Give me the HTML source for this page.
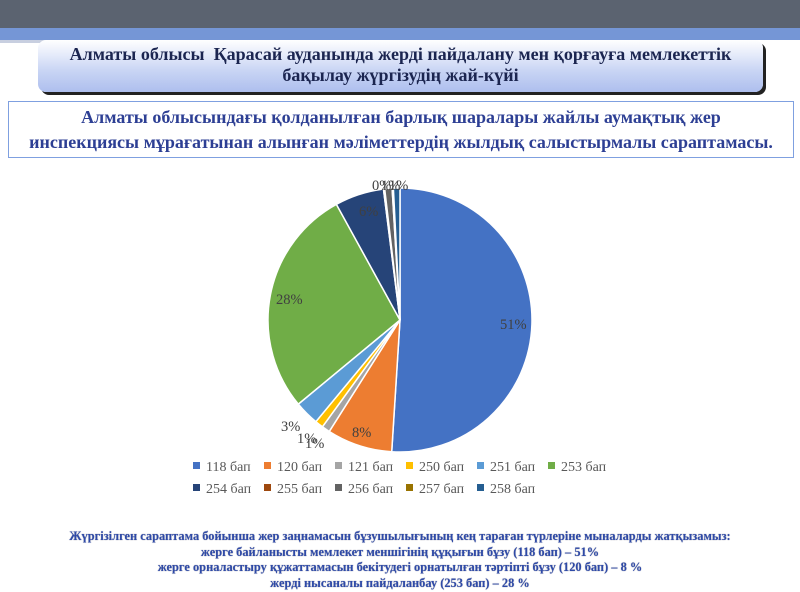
<!DOCTYPE html>
<html><head><meta charset="utf-8"><style>
body{margin:0;width:800px;height:592px;overflow:hidden;background:#fff;position:relative;font-family:"Liberation Serif",serif}
.band1{position:absolute;left:0;top:0;width:800px;height:28px;background:#5b6370}
.band2{position:absolute;left:0;top:28px;width:800px;height:12px;background:#7596d6}
.band3{position:absolute;left:0;top:40px;width:470px;height:3px;background:#c8cfe0}
.t1{position:absolute;left:38px;top:40px;width:725px;height:52px;border-radius:8px;background:linear-gradient(#fff,#c8d4f4 60%,#aebfee);box-shadow:3px 3px 0 #222;text-align:center;font-weight:bold;font-size:18px;line-height:21px;color:#1b2550;padding-top:4px;box-sizing:border-box;white-space:nowrap}
.t2{position:absolute;left:8px;top:101px;width:786px;height:57px;border:1px solid #7fa0e0;text-align:center;font-weight:bold;font-size:18px;line-height:25px;color:#2d3f94;padding-top:3px;box-sizing:border-box;white-space:nowrap}
.bot{position:absolute;left:0;top:529px;width:800px;text-align:center;font-weight:bold;font-size:12.4px;line-height:15.5px;color:#2e4aa8;text-shadow:0 0 1px #889;white-space:nowrap}
</style></head><body>
<div class="band1"></div><div class="band2"></div><div class="band3"></div>
<div class="t1">Алматы облысы&nbsp; Қарасай ауданында жерді пайдалану мен қорғауға мемлекеттік<br>бақылау жүргізудің жай-күйі</div>
<div class="t2">Алматы облысындағы қолданылған барлық шаралары жайлы аумақтық жер<br>инспекциясы мұрағатынан алынған мәліметтердің жылдық салыстырмалы сараптамасы.</div>
<svg id="pie" width="800" height="592" style="position:absolute;left:0;top:0" font-family="Liberation Serif, serif"></svg>
<div class="bot">Жүргізілген сараптама бойынша жер заңнамасын бұзушылығының кең тараған түрлеріне мыналарды жатқызамыз:<br>жерге байланысты мемлекет меншігінің құқығын бұзу (118 бап) – 51%<br>жерге орналастыру құжаттамасын бекітудегі орнатылған тәртіпті бұзу (120 бап) – 8 %<br>жерді нысаналы пайдаланбау (253 бап) – 28 %</div>
<script>
var s=document.getElementById('pie'),cx=400,cy=320,r=132;
var d=[[51,'#4472c4'],[8,'#ed7d31'],[1,'#a5a5a5'],[1,'#ffc000'],[3,'#5b9bd5'],[28,'#70ad47'],[6,'#264478'],[0.15,'#9e480e'],[0.9,'#636363'],[0.15,'#997300'],[0.8,'#255e91']];
var tot=0;d.forEach(function(x){tot+=x[0]});var a=0,h='';
d.forEach(function(x){var a2=a+x[0]/tot*2*Math.PI;
var x1=cx+r*Math.sin(a),y1=cy-r*Math.cos(a),x2=cx+r*Math.sin(a2),y2=cy-r*Math.cos(a2);
h+='<path d="M'+cx+','+cy+'L'+x1+','+y1+'A'+r+','+r+' 0 '+((a2-a)>Math.PI?1:0)+',1 '+x2+','+y2+'Z" fill="'+x[1]+'" stroke="#fff" stroke-width="1.5"/>';a=a2;});
var L=[[500,329,'51%'],[352,437,'8%'],[276,304,'28%'],[359,216,'6%'],[281,431,'3%'],[297,443,'1%'],[305,448,'1%'],[372,190,'0%'],[381,190,'1%'],[389,190,'1%']];
L.forEach(function(l){h+='<text x="'+l[0]+'" y="'+l[1]+'" font-size="14.5" fill="#404040">'+l[2]+'</text>';});
var lg=[['118 бап','#4472c4'],['120 бап','#ed7d31'],['121 бап','#a5a5a5'],['250 бап','#ffc000'],['251 бап','#5b9bd5'],['253 бап','#70ad47'],['254 бап','#264478'],['255 бап','#9e480e'],['256 бап','#636363'],['257 бап','#997300'],['258 бап','#255e91']];
lg.forEach(function(g,i){var row=i<6?0:1,col=row?i-6:i,x=193+col*71,y=row?493:471;
h+='<rect x="'+x+'" y="'+(y-9)+'" width="7" height="7" fill="'+g[1]+'"/><text x="'+(x+13)+'" y="'+y+'" font-size="14" fill="#595959">'+g[0]+'</text>';});
s.innerHTML=h;
</script>
</body></html>
